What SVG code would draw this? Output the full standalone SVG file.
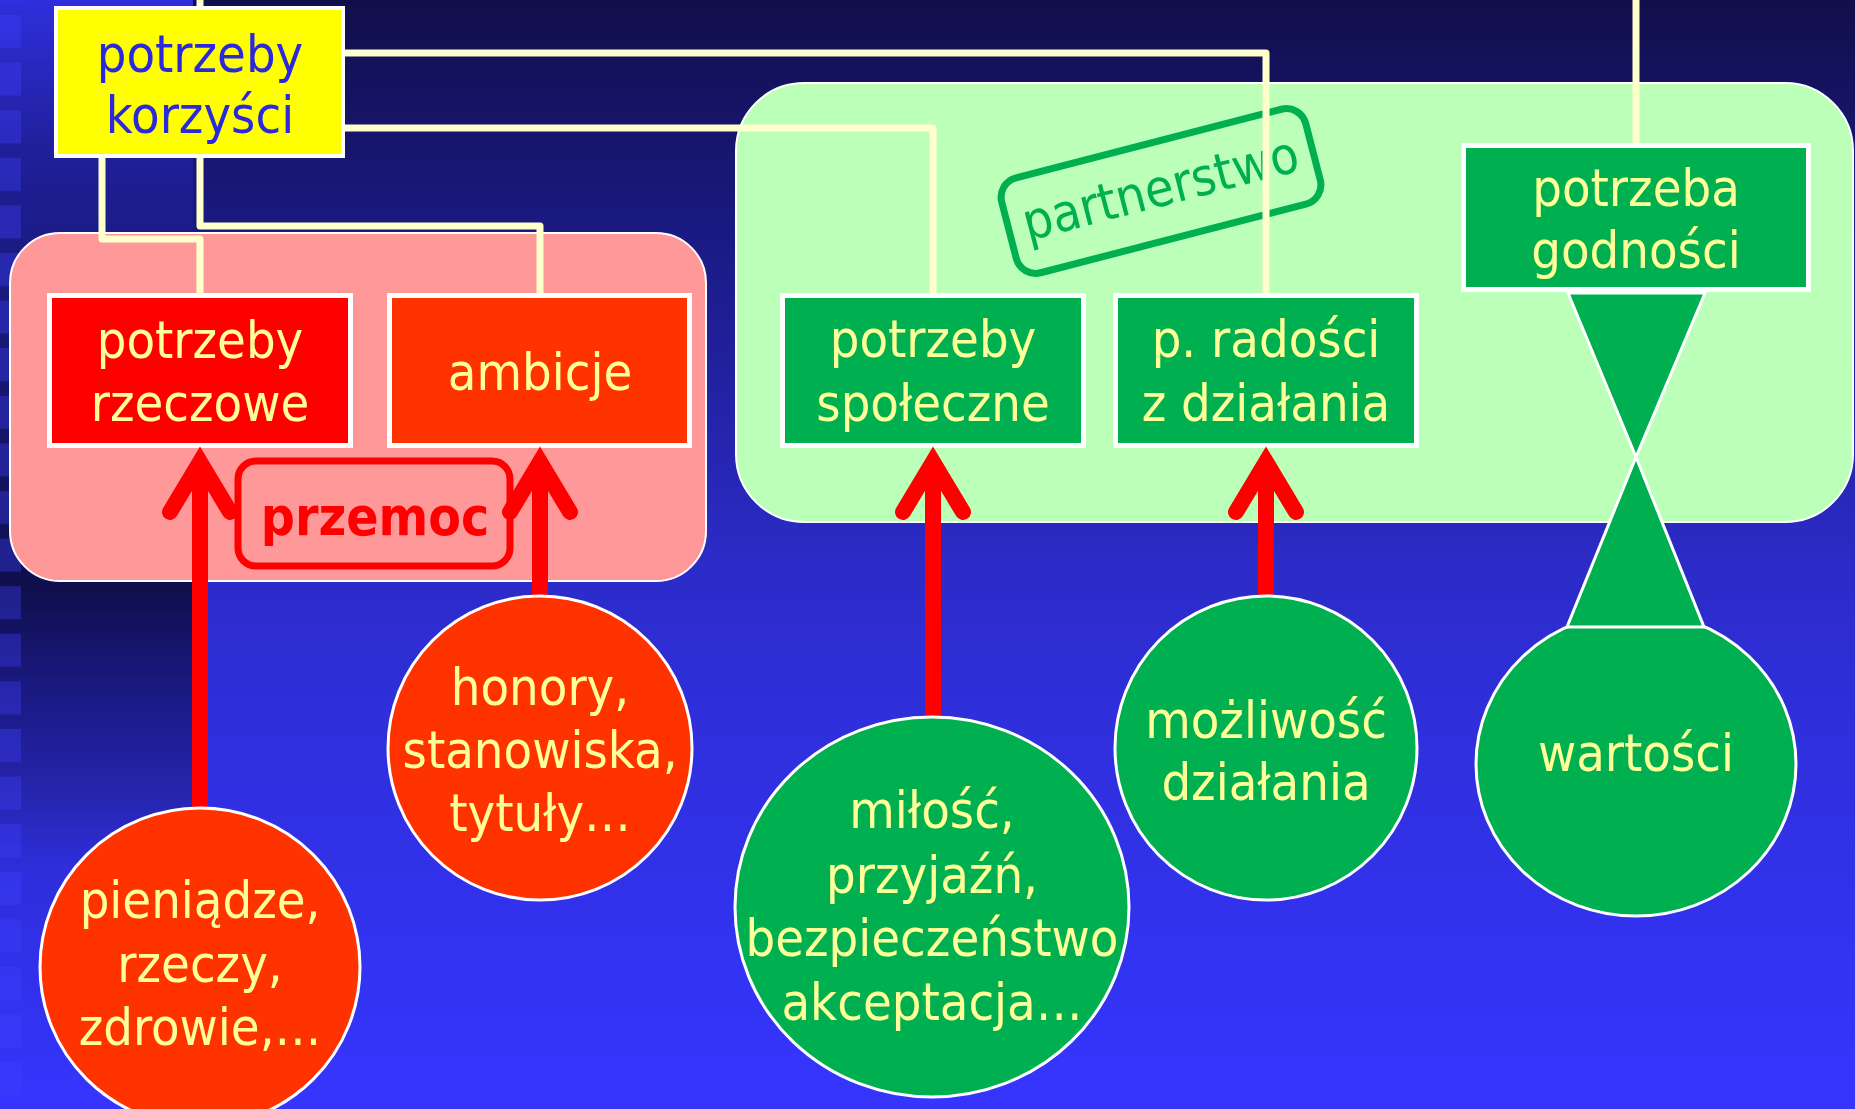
<svg xmlns="http://www.w3.org/2000/svg" width="1855" height="1109" viewBox="0 0 1855 1109">
<defs>
<linearGradient id="bg" x1="0" y1="0" x2="0" y2="1">
<stop offset="0" stop-color="#110F4A"/>
<stop offset="0.2" stop-color="#1A1980"/>
<stop offset="0.5" stop-color="#2B2BC6"/>
<stop offset="0.6" stop-color="#2E2ED6"/>
<stop offset="1" stop-color="#3535FF"/>
</linearGradient>
<linearGradient id="strip" x1="0" y1="0" x2="0" y2="1">
<stop offset="0" stop-color="#2F2FDD"/>
<stop offset="0.14" stop-color="#1F1F98"/>
<stop offset="0.2" stop-color="#1C1C8A"/>
<stop offset="0.53" stop-color="#100F4C"/>
<stop offset="0.63" stop-color="#1B1A86"/>
<stop offset="0.72" stop-color="#2626B0"/>
<stop offset="0.78" stop-color="#2E2EDA"/>
<stop offset="1" stop-color="#3535FF"/>
</linearGradient>
<pattern id="sq" x="0" y="15" width="21" height="47.6" patternUnits="userSpaceOnUse">
<rect x="0" y="0" width="21" height="33" fill="#4040FF" opacity="0.35"/>
</pattern>
<style>
.t{font-family:'DejaVu Sans Condensed','DejaVu Sans',sans-serif;font-stretch:condensed;font-size:52px;fill:#FFFF99;text-anchor:middle}
.conn{fill:none;stroke:#FFFFCC;stroke-width:7;stroke-linejoin:round}
.box{stroke:#FFFFFF;stroke-width:5}
.ell{stroke:#FFFFFF;stroke-width:3}
.shaft{stroke:#FF0000;stroke-width:16}
.head{fill:none;stroke:#FF0000;stroke-width:16;stroke-linecap:round;stroke-linejoin:miter}
.red{fill:#FF0000}
.orange{fill:#FF3300}
.green{fill:#00B050}
</style>
</defs>
<rect x="0" y="0" width="1855" height="1109" fill="url(#bg)"/>
<rect x="0" y="0" width="193" height="1109" fill="url(#strip)"/>
<rect x="0" y="0" width="21" height="1109" fill="url(#sq)"/>

<g id="group-przemoc">
<rect x="10" y="233" width="696" height="348" rx="50" fill="#FF9999" stroke="#FFFFFF" stroke-width="2"/>
</g>
<g id="group-partnerstwo">
<rect x="736" y="83" width="1117" height="439" rx="68" fill="#BBFFB8" stroke="#FFFFFF" stroke-width="2"/>
</g>

<g id="label-partnerstwo" transform="translate(1161,191) rotate(-14.5)">
<rect x="-157" y="-49" width="314" height="98" rx="20" fill="none" stroke="#00B050" stroke-width="7"/>
<text class="t" x="0" y="15" style="fill:#00B050">partnerstwo</text>
</g>

<g id="connectors">
<path class="conn" d="M200,0 V226 H540 V293"/>
<path class="conn" d="M102,158 V239 H200 V293"/>
<path class="conn" d="M345,53 H1266 V293"/>
<path class="conn" d="M345,128 H933 V293"/>
<path class="conn" d="M1636,0 V143"/>
</g>

<g id="node-korzysci">
<rect x="56" y="8" width="287" height="148" fill="#FFFF00" stroke="#FFFFFF" stroke-width="4"/>
<text class="t" x="200" y="72" style="fill:#2A2ADC">potrzeby</text>
<text class="t" x="200" y="133" style="fill:#2A2ADC">korzyści</text>
</g>

<g id="node-rzeczowe">
<rect class="box red" x="49.5" y="295.5" width="301" height="150"/>
<text class="t" x="200" y="358">potrzeby</text>
<text class="t" x="200" y="421">rzeczowe</text>
</g>

<g id="node-ambicje">
<rect class="box orange" x="389.5" y="295.5" width="300" height="150"/>
<text class="t" x="540" y="390">ambicje</text>
</g>

<g id="node-spoleczne">
<rect class="box green" x="782.5" y="295.5" width="301" height="150"/>
<text class="t" x="933" y="357">potrzeby</text>
<text class="t" x="933" y="421">społeczne</text>
</g>

<g id="node-radosci">
<rect class="box green" x="1115.5" y="295.5" width="301" height="150"/>
<text class="t" x="1266" y="357">p. radości</text>
<text class="t" x="1266" y="421">z działania</text>
</g>

<g id="node-godnosci">
<rect class="box green" x="1463.5" y="145.5" width="345" height="144"/>
<text class="t" x="1636" y="206">potrzeba</text>
<text class="t" x="1636" y="268">godności</text>
</g>

<g id="label-przemoc">
<rect x="238" y="461" width="272" height="105" rx="18" fill="none" stroke="#FF0000" stroke-width="7"/>
<text x="375" y="535" style="font-family:'DejaVu Sans Condensed','DejaVu Sans',sans-serif;font-stretch:condensed;font-weight:bold;font-size:53px;fill:#FF0000;text-anchor:middle">przemoc</text>
</g>

<g id="arrows">
<line class="shaft" x1="200" y1="808" x2="200" y2="472"/>
<path class="head" d="M170,512 L200,462 L230,512"/>
<line class="shaft" x1="540" y1="598" x2="540" y2="472"/>
<path class="head" d="M510,512 L540,462 L570,512"/>
<line class="shaft" x1="933" y1="717" x2="933" y2="472"/>
<path class="head" d="M903,512 L933,462 L963,512"/>
<line class="shaft" x1="1266" y1="597" x2="1266" y2="472"/>
<path class="head" d="M1236,512 L1266,462 L1296,512"/>
</g>

<g id="node-pieniadze">
<ellipse class="ell orange" cx="200" cy="967" rx="160" ry="159"/>
<text class="t" x="200" y="918">pieniądze,</text>
<text class="t" x="200" y="982">rzeczy,</text>
<text class="t" x="200" y="1045">zdrowie,…</text>
</g>

<g id="node-honory">
<ellipse class="ell orange" cx="540" cy="748" rx="152" ry="152"/>
<text class="t" x="540" y="705">honory,</text>
<text class="t" x="540" y="768">stanowiska,</text>
<text class="t" x="540" y="831">tytuły…</text>
</g>

<g id="node-milosc">
<ellipse class="ell green" cx="932" cy="907" rx="197" ry="190"/>
<text class="t" x="932" y="828">miłość,</text>
<text class="t" x="932" y="893">przyjaźń,</text>
<text class="t" x="932" y="956">bezpieczeństwo</text>
<text class="t" x="932" y="1020">akceptacja…</text>
</g>

<g id="node-mozliwosc">
<ellipse class="ell green" cx="1266" cy="748" rx="151" ry="152"/>
<text class="t" x="1266" y="738">możliwość</text>
<text class="t" x="1266" y="800">działania</text>
</g>

<g id="node-wartosci">
<ellipse class="ell green" cx="1636" cy="764" rx="160" ry="152"/>
<polygon class="ell green" points="1568,293 1705,293 1636,457"/>
<polygon class="ell green" points="1636,457 1567,627 1704,627"/>
<text class="t" x="1636" y="771">wartości</text>
</g>
</svg>
